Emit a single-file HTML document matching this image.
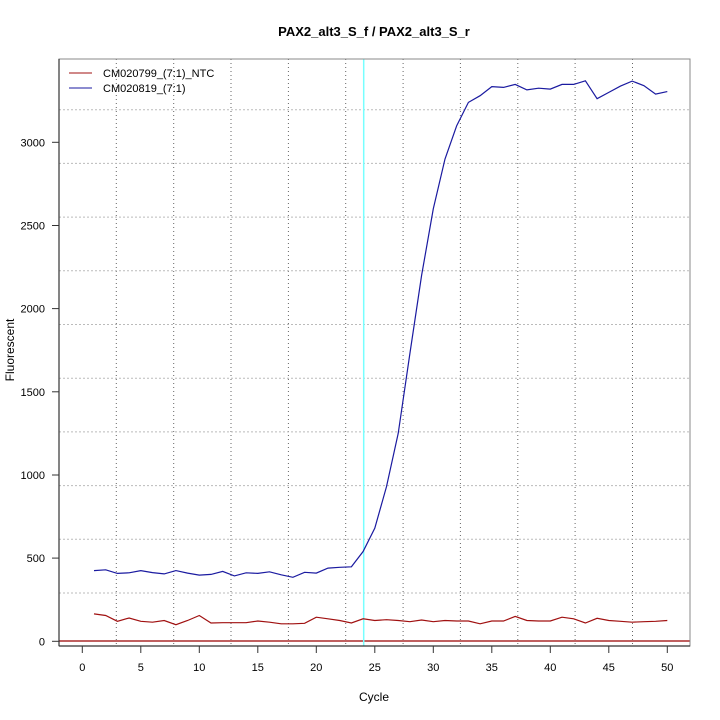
<!DOCTYPE html>
<html><head><meta charset="utf-8"><style>html,body{margin:0;padding:0;background:#fff}svg{display:block}</style></head>
<body>
<svg width="720" height="720" xmlns="http://www.w3.org/2000/svg" font-family="Liberation Sans, sans-serif">
<rect width="720" height="720" fill="#fff"/>
<g stroke="#666" stroke-width="1" stroke-dasharray="1,3">
<line x1="116.3" y1="59" x2="116.3" y2="646"/><line x1="173.7" y1="59" x2="173.7" y2="646"/><line x1="231" y1="59" x2="231" y2="646"/><line x1="288.4" y1="59" x2="288.4" y2="646"/><line x1="345.7" y1="59" x2="345.7" y2="646"/><line x1="403.1" y1="59" x2="403.1" y2="646"/><line x1="460.4" y1="59" x2="460.4" y2="646"/><line x1="517.8" y1="59" x2="517.8" y2="646"/><line x1="575.1" y1="59" x2="575.1" y2="646"/><line x1="632.5" y1="59" x2="632.5" y2="646"/>
</g>
<g stroke="#bbb" stroke-width="1" stroke-dasharray="2,2">
<line x1="59" y1="593" x2="690" y2="593"/><line x1="59" y1="539.3" x2="690" y2="539.3"/><line x1="59" y1="485.6" x2="690" y2="485.6"/><line x1="59" y1="431.9" x2="690" y2="431.9"/><line x1="59" y1="378.2" x2="690" y2="378.2"/><line x1="59" y1="324.5" x2="690" y2="324.5"/><line x1="59" y1="270.8" x2="690" y2="270.8"/><line x1="59" y1="217.1" x2="690" y2="217.1"/><line x1="59" y1="163.4" x2="690" y2="163.4"/><line x1="59" y1="109.7" x2="690" y2="109.7"/>
</g>
<line x1="59" y1="641" x2="690" y2="641" stroke="#c06060" stroke-width="2"/>
<line x1="363.7" y1="59" x2="363.7" y2="646" stroke="#7ff" stroke-width="1.5"/>
<polyline fill="none" stroke="#a01010" stroke-width="1.2" points="94,613.9 105.7,615.5 117.4,621.3 129.1,618 140.8,621.3 152.5,622.2 164.2,620.5 175.9,624.7 187.6,620.5 199.3,615.5 211,623 222.7,622.7 234.4,622.7 246.1,622.7 257.8,621 269.5,622.2 281.2,623.8 292.9,623.8 304.6,623.3 316.3,617.2 328,618.8 339.7,620.5 351.4,623 363.1,618.8 374.8,620.5 386.5,619.7 398.2,620.5 409.9,621.7 421.6,620 433.3,621.7 445,620.5 456.7,621 468.4,621 480.1,623.8 491.8,621 503.5,621 515.2,616.4 526.9,620.5 538.6,621 550.3,621 562,617.2 573.7,618.8 585.4,623 597.1,618.3 608.8,620.5 620.5,621.3 632.2,622.2 643.9,621.7 655.6,621.3 667.3,620.5"/>
<polyline fill="none" stroke="#1a1aa0" stroke-width="1.2" points="94,570.6 105.7,569.8 117.4,573.4 129.1,572.8 140.8,570.6 152.5,572.6 164.2,573.9 175.9,570.6 187.6,573.1 199.3,575.1 211,574.4 222.7,571.4 234.4,575.9 246.1,572.8 257.8,573.4 269.5,571.8 281.2,574.8 292.9,577.3 304.6,572.3 316.3,573.1 328,568.1 339.7,567.3 351.4,566.8 363.1,551.5 374.8,528.2 386.5,486.6 398.2,433.4 409.9,353.5 421.6,275.4 433.3,208.8 445,159 456.7,125.7 468.4,102.4 480.1,95.7 491.8,86.6 503.5,87.4 515.2,84.4 526.9,89.9 538.6,88.2 550.3,89.1 562,84.4 573.7,84.4 585.4,80.8 597.1,98.7 608.8,92.4 620.5,86.1 632.2,81.1 643.9,85.7 655.6,94.1 667.3,91.6"/>
<rect x="59" y="59" width="631" height="587" fill="none" stroke="#888" stroke-width="1"/>
<line x1="59" y1="59" x2="59" y2="646" stroke="#333" stroke-width="1.2"/>
<line x1="59" y1="646" x2="690" y2="646" stroke="#333" stroke-width="1.2"/>
<g stroke="#333">
<line x1="52" y1="641.3" x2="59" y2="641.3"/><line x1="52" y1="558.1" x2="59" y2="558.1"/><line x1="52" y1="475" x2="59" y2="475"/><line x1="52" y1="391.8" x2="59" y2="391.8"/><line x1="52" y1="308.6" x2="59" y2="308.6"/><line x1="52" y1="225.5" x2="59" y2="225.5"/><line x1="52" y1="142.3" x2="59" y2="142.3"/>
<line x1="82.3" y1="646" x2="82.3" y2="653"/><line x1="140.8" y1="646" x2="140.8" y2="653"/><line x1="199.3" y1="646" x2="199.3" y2="653"/><line x1="257.8" y1="646" x2="257.8" y2="653"/><line x1="316.3" y1="646" x2="316.3" y2="653"/><line x1="374.8" y1="646" x2="374.8" y2="653"/><line x1="433.3" y1="646" x2="433.3" y2="653"/><line x1="491.8" y1="646" x2="491.8" y2="653"/><line x1="550.3" y1="646" x2="550.3" y2="653"/><line x1="608.8" y1="646" x2="608.8" y2="653"/><line x1="667.3" y1="646" x2="667.3" y2="653"/>
</g>
<g font-size="11" text-anchor="end">
<text x="45" y="645.3">0</text><text x="45" y="562.1">500</text><text x="45" y="479">1000</text><text x="45" y="395.8">1500</text><text x="45" y="312.6">2000</text><text x="45" y="229.5">2500</text><text x="45" y="146.3">3000</text>
</g>
<g font-size="11" text-anchor="middle">
<text x="82.3" y="671">0</text><text x="140.8" y="671">5</text><text x="199.3" y="671">10</text><text x="257.8" y="671">15</text><text x="316.3" y="671">20</text><text x="374.8" y="671">25</text><text x="433.3" y="671">30</text><text x="491.8" y="671">35</text><text x="550.3" y="671">40</text><text x="608.8" y="671">45</text><text x="667.3" y="671">50</text>
</g>
<line x1="69" y1="73" x2="92" y2="73" stroke="#a01010"/><text x="103" y="77" font-size="11">CM020799_(7:1)_NTC</text>
<line x1="69" y1="88" x2="92" y2="88" stroke="#1a1aa0"/><text x="103" y="92" font-size="11">CM020819_(7:1)</text>
<text x="374" y="36" text-anchor="middle" font-weight="bold" font-size="13">PAX2_alt3_S_f / PAX2_alt3_S_r</text>
<text x="374" y="701" text-anchor="middle" font-size="12">Cycle</text>
<text transform="translate(14,350) rotate(-90)" text-anchor="middle" font-size="12">Fluorescent</text>
</svg>
</body></html>
